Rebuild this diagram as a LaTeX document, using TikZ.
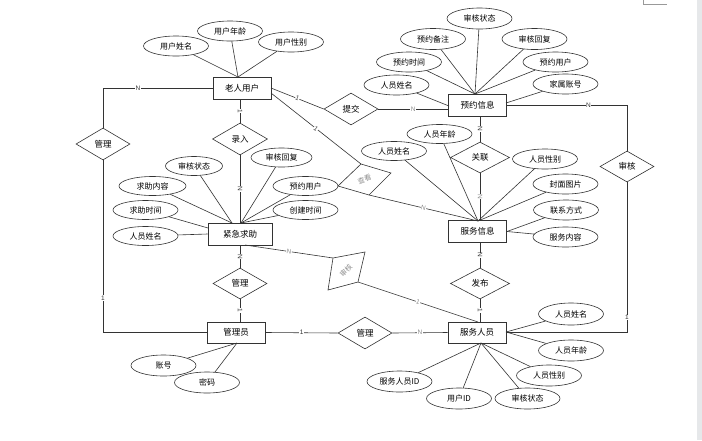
\documentclass[tikz,border=0pt]{standalone}
\usepackage{fontspec}
\setmainfont{Liberation Sans}
\newfontfamily\cjk{Noto Sans CJK SC}
\usetikzlibrary{shapes.geometric}
\definecolor{ink}{HTML}{333333}
\definecolor{strip}{HTML}{E6E8EA}
\begin{document}
\begin{tikzpicture}[x=1pt,y=-1pt,
  ent/.style={draw=ink, line width=0.9pt, minimum width=58pt, minimum height=22pt, inner sep=0pt, font=\cjk\fontsize{8.5}{9}\selectfont},
  attr/.style={ellipse, draw=ink, line width=0.6pt, minimum width=65pt, minimum height=20pt, inner sep=0pt, font=\cjk\fontsize{8}{9}\selectfont},
  rel/.style={diamond, draw=ink, line width=0.6pt, minimum width=54pt, minimum height=32pt, inner sep=0pt, font=\cjk\fontsize{8.5}{9}\selectfont},
  ln/.style={draw=ink, line width=0.6pt},
  lab/.style={fill=white, inner sep=0.4pt, font=\fontsize{6.5}{6.5}\selectfont, text=ink},
  glab/.style={lab, text=black!45},
  gtxt/.style={font=\cjk\fontsize{7}{8}\selectfont, text=black!45, inner sep=0pt},
]
\useasboundingbox (0,0) rectangle (702,440);
\fill[white] (0,0) rectangle (702,440);
\fill[strip] (697,0) rectangle (702,440);
\draw[black!40, line width=0.5pt] (643,0) -- (643,4.5) -- (667,4.5);

% entities
\node[ent] (lr) at (242,88) {老人用户};
\node[ent] (yy) at (477.5,105) {预约信息};
\node[ent, minimum width=64pt] (jj) at (240,234) {紧急求助};
\node[ent] (fx) at (477.5,231.5) {服务信息};
\node[ent, minimum height=21pt] (gl) at (236,332.5) {管理员};
\node[ent, minimum height=21pt] (fr) at (477,332.5) {服务人员};

% relations
\node[rel, minimum width=55pt] (lu) at (240,139) {录入};
\node[rel] (gm1) at (103,144) {管理};
\node[rel] (tj) at (351,109) {提交};
\node[rel, minimum width=59pt, minimum height=31pt] (gx) at (480,157.5) {关联};
\node[rel, minimum height=31pt] (sh) at (627,166.5) {审核};
\node[rel, minimum height=31pt] (gm2) at (240,283.5) {管理};
\node[rel, minimum width=59pt, minimum height=31pt] (fb) at (480,283.5) {发布};
\node[rel] (gm3) at (365,333) {管理};

% skewed diamonds
\coordinate (ck1) at (338,186); \coordinate (ck2) at (361,164);
\coordinate (ck3) at (391,173); \coordinate (ck4) at (369,195);
\draw[ln] (ck1) -- (ck2) -- (ck3) -- (ck4) -- cycle;
\node[gtxt, rotate=20] (ckt) at (364.5,179.5) {查看};
\coordinate (sk1) at (333,258); \coordinate (sk2) at (365,252);
\coordinate (sk3) at (358,282); \coordinate (sk4) at (328,290);
\draw[ln] (sk1) -- (sk2) -- (sk3) -- (sk4) -- cycle;
\node[gtxt, rotate=45] (skt) at (346,270.5) {审核};

% attributes of 老人用户
\coordinate (lrT) at (238,77);
\node[attr] (a1) at (176,46) {用户姓名};
\node[attr] (a2) at (230,31) {用户年龄};
\node[attr] (a3) at (291,42) {用户性别};
\foreach \a in {a1,a2,a3} \draw[ln] (\a) -- (lrT);

% attributes of 预约信息
\coordinate (yyT) at (475,94);
\coordinate (yyL) at (449,106);
\coordinate (yyR) at (506,103);
\node[attr, minimum height=21pt] (b1) at (479.5,18.5) {审核状态};
\node[attr, minimum height=21pt] (b2) at (433,39) {预约备注};
\node[attr, minimum height=21pt] (b3) at (534.5,39) {审核回复};
\node[attr] (b4) at (409,62) {预约时间};
\node[attr] (b5) at (555.5,62) {预约用户};
\node[attr] (b6) at (396.5,85) {人员姓名};
\node[attr] (b7) at (565.5,84) {家属账号};
\foreach \a in {b1,b2,b3,b4,b5} \draw[ln] (\a) -- (yyT);
\draw[ln] (b6) -- (yyL);
\draw[ln] (b7) -- (yyR);

% attributes of 服务信息
\coordinate (fxT) at (478,221);
\node[attr, minimum height=19pt] (c1) at (439.5,134) {人员年龄};
\node[attr, minimum height=19pt] (c2) at (394,151) {人员姓名};
\node[attr] (c3) at (545,159) {人员性别};
\node[attr] (c4) at (565.5,184) {封面图片};
\node[attr] (c5) at (566,210) {联系方式};
\node[attr] (c6) at (565.5,237) {服务内容};
\foreach \a in {c1,c2,c3,c4} \draw[ln] (\a) -- (fxT);
\draw[ln] (c5) -- (fx.east);
\draw[ln] (c6) -- (fx.east);

% attributes of 紧急求助
\coordinate (jjTL) at (232,223);
\coordinate (jjTR) at (241,223);
\coordinate (jjL) at (208,228);
\node[attr, minimum width=57pt, minimum height=19pt] (d1) at (194,166) {审核状态};
\node[attr, minimum width=61pt, minimum height=19pt] (d2) at (281.5,157.5) {审核回复};
\node[attr, minimum width=67pt, minimum height=19pt] (d3) at (152.5,186) {求助内容};
\node[attr, minimum height=19pt] (d4) at (305.5,186) {预约用户};
\node[attr, minimum height=19pt] (d5) at (145.5,210) {求助时间};
\node[attr, minimum height=19pt] (d6) at (305.5,210) {创建时间};
\node[attr, minimum height=19pt] (d7) at (145.5,236) {人员姓名};
\foreach \a in {d1,d3} \draw[ln] (\a) -- (jjTL);
\foreach \a in {d2,d4,d6} \draw[ln] (\a) -- (jjTR);
\draw[ln] (d5) -- (jjL);
\draw[ln] (d7) -- (jj.west);

% attributes of 管理员
\coordinate (glB) at (237,343);
\node[attr, minimum height=21pt] (e1) at (163.5,365.5) {账号};
\node[attr, minimum height=21pt] (e2) at (207,382.5) {密码};
\foreach \a in {e1,e2} \draw[ln] (\a) -- (glB);

% attributes of 服务人员
\coordinate (frB) at (481,343);
\coordinate (frR) at (506,332);
\node[attr, minimum height=22pt] (f1) at (571,314) {人员姓名};
\node[attr, minimum height=21pt] (f2) at (571,350.5) {人员年龄};
\node[attr, minimum height=21pt] (f3) at (549,375.5) {人员性别};
\node[attr, minimum height=21pt] (f4) at (399.5,381.5) {服务人员ID};
\node[attr, minimum height=21pt] (f5) at (459,398.5) {用户ID};
\node[attr, minimum height=21pt] (f6) at (527.5,398.5) {审核状态};
\draw[ln] (f1) -- (frR);
\draw[ln] (f2) -- (frR);
\foreach \a in {f3,f4,f5,f6} \draw[ln] (\a) -- (frB);

% relationship connectors
\draw[ln] (lr.west) -| (gm1.north) node[lab, pos=0.34] {N};
\draw[ln] (gm1.south) |- (gl.west) node[lab, pos=0.40] {1};
\draw[ln] (lu.north |- lr.south) -- (lu.north) node[lab, midway, sloped] {1};
\draw[ln] (lu.south) -- (lu.south |- jj.north) node[lab, midway, sloped] {N};
\coordinate (lrE1) at (271,88);
\coordinate (lrE2) at (271,93);
\draw[ln] (lrE1) -- (tj.west) node[lab, midway, sloped] {1};
\draw[ln] (tj.east) -- (tj.east -| yy.west) node[glab, midway] {N};
\draw[ln] (lrE2) -- (ck2) node[lab, midway, sloped] {1};
\draw[ln] (ck4) -- (fxT) node[glab, midway, sloped] {N};
\draw[ln] (gx.north |- yy.south) -- (gx.north) node[lab, midway, sloped] {N};
\draw[ln] (gx.south) -- (gx.south |- fx.north) node[glab, midway, sloped] {N};
\draw[ln] (yy.east) -| (sh.north) node[lab, pos=0.34] {N};
\draw[ln] (sh.south) |- (fr.east) node[lab, pos=0.45] {1};
\draw[ln] (gm2.north |- jj.south) -- (gm2.north) node[lab, midway, sloped] {N};
\draw[ln] (gm2.south) -- (gm2.south |- gl.north) node[lab, midway, sloped] {1};
\coordinate (jjB) at (245,245);
\draw[ln] (jjB) -- (sk1) node[glab, midway, sloped] {N};
\coordinate (frT) at (478,322);
\draw[ln] (sk3) -- (frT) node[glab, midway, sloped] {1};
\draw[ln] (fb.north |- fx.south) -- (fb.north) node[lab, midway, sloped] {N};
\draw[ln] (fb.south) -- (fb.south |- fr.north) node[lab, midway, sloped] {1};
\draw[ln] (gl.east) -- (gm3.west) node[lab, midway] {1};
\draw[ln] (gm3.east) -- (fr.west) node[glab, midway] {N};
\end{tikzpicture}
\end{document}
